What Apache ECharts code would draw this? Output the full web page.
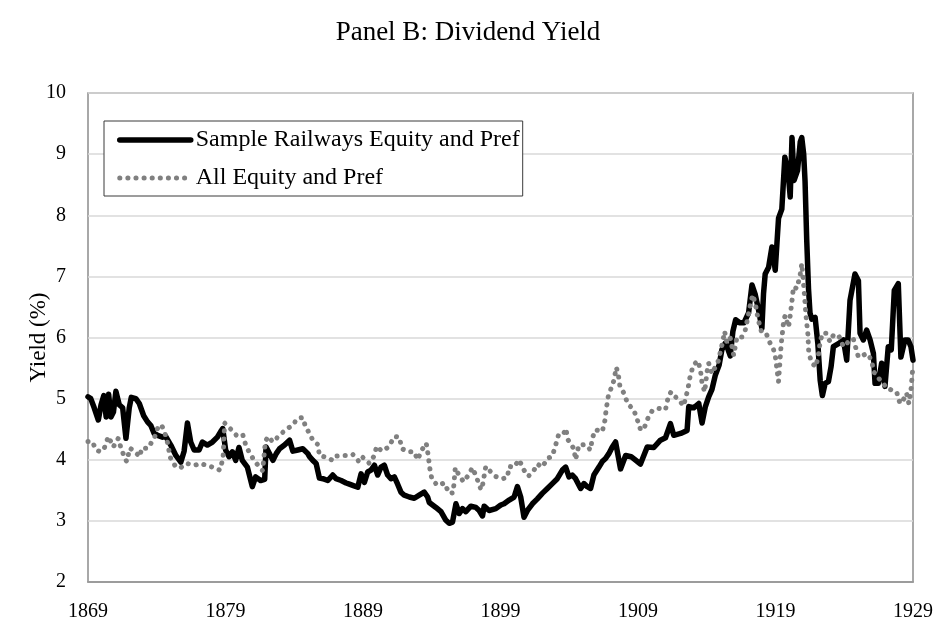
<!DOCTYPE html>
<html>
<head>
<meta charset="utf-8">
<script src="https://cdn.jsdelivr.net/npm/echarts@6/dist/echarts.min.js"></script>
<style>
  html, body { margin: 0; padding: 0; background: #fff; }
  #chart { width: 936px; height: 624px; }
</style>
</head>
<body>
<div id="chart"></div>
<script>
// Dividend yield (%) by date, as [year, yield] pairs
const sampleRailways = [
  [1869.00, 5.03], [1869.20, 5.00], [1869.45, 4.85], [1869.75, 4.65], [1869.95, 4.90],
  [1870.15, 5.05], [1870.32, 4.70], [1870.50, 5.07], [1870.67, 4.70], [1870.85, 4.78],
  [1871.03, 5.12], [1871.27, 4.90], [1871.52, 4.85], [1871.76, 4.35], [1872.00, 4.85],
  [1872.15, 5.02], [1872.48, 5.00], [1872.73, 4.92], [1873.05, 4.72], [1873.33, 4.62],
  [1873.57, 4.56], [1873.81, 4.43], [1874.06, 4.40], [1874.42, 4.37], [1874.66, 4.38],
  [1875.02, 4.24], [1875.39, 4.07], [1875.75, 3.96], [1875.99, 4.14], [1876.23, 4.60],
  [1876.47, 4.29], [1876.72, 4.16], [1877.08, 4.16], [1877.32, 4.29], [1877.68, 4.24],
  [1878.05, 4.29], [1878.41, 4.37], [1878.65, 4.46], [1878.80, 4.51], [1879.01, 4.16],
  [1879.26, 4.05], [1879.50, 4.13], [1879.74, 3.99], [1879.98, 4.20], [1880.22, 3.99],
  [1880.59, 3.88], [1880.95, 3.56], [1881.19, 3.72], [1881.55, 3.66], [1881.85, 3.68],
  [1881.95, 4.21], [1882.08, 4.18], [1882.45, 3.99], [1882.69, 4.10], [1882.93, 4.18],
  [1883.29, 4.24], [1883.66, 4.32], [1883.90, 4.14], [1884.26, 4.16], [1884.62, 4.18],
  [1884.99, 4.10], [1885.11, 4.05], [1885.35, 3.99], [1885.59, 3.94], [1885.83, 3.70],
  [1886.08, 3.69], [1886.44, 3.66], [1886.80, 3.75], [1887.04, 3.69], [1887.41, 3.66],
  [1887.77, 3.62], [1888.01, 3.60], [1888.25, 3.58], [1888.62, 3.55], [1888.86, 3.77],
  [1889.10, 3.63], [1889.34, 3.80], [1889.58, 3.83], [1889.83, 3.91], [1890.07, 3.75],
  [1890.31, 3.88], [1890.55, 3.91], [1890.79, 3.75], [1891.03, 3.69], [1891.28, 3.72],
  [1891.52, 3.60], [1891.76, 3.47], [1892.00, 3.42], [1892.37, 3.39], [1892.73, 3.37],
  [1893.09, 3.42], [1893.45, 3.47], [1893.70, 3.39], [1893.82, 3.30], [1894.06, 3.26],
  [1894.30, 3.22], [1894.67, 3.15], [1895.03, 3.01], [1895.27, 2.96], [1895.51, 2.98],
  [1895.76, 3.28], [1896.00, 3.12], [1896.24, 3.20], [1896.48, 3.15], [1896.84, 3.24],
  [1897.21, 3.22], [1897.45, 3.17], [1897.69, 3.08], [1897.81, 3.24], [1898.17, 3.17],
  [1898.66, 3.20], [1899.02, 3.26], [1899.26, 3.28], [1899.63, 3.34], [1899.99, 3.39],
  [1900.23, 3.56], [1900.47, 3.39], [1900.71, 3.06], [1900.96, 3.17], [1901.32, 3.28],
  [1901.68, 3.36], [1902.04, 3.45], [1902.41, 3.53], [1902.77, 3.61], [1903.13, 3.69],
  [1903.50, 3.83], [1903.74, 3.88], [1903.98, 3.72], [1904.22, 3.75], [1904.46, 3.69],
  [1904.83, 3.53], [1905.07, 3.61], [1905.31, 3.56], [1905.55, 3.53], [1905.79, 3.75],
  [1906.16, 3.88], [1906.40, 3.97], [1906.64, 4.02], [1906.88, 4.10], [1907.13, 4.21],
  [1907.37, 4.29], [1907.73, 3.85], [1908.10, 4.07], [1908.50, 4.05], [1909.18, 3.93],
  [1909.67, 4.21], [1910.15, 4.20], [1910.63, 4.32], [1911.00, 4.36], [1911.36, 4.59],
  [1911.60, 4.40], [1912.10, 4.43], [1912.57, 4.48], [1912.69, 4.87], [1913.05, 4.85],
  [1913.42, 4.92], [1913.66, 4.60], [1913.90, 4.87], [1914.14, 5.03], [1914.38, 5.15],
  [1914.62, 5.38], [1914.90, 5.55], [1915.10, 5.80], [1915.35, 5.91], [1915.47, 5.85],
  [1915.71, 5.70], [1915.90, 6.10], [1916.10, 6.29], [1916.40, 6.24], [1916.70, 6.24],
  [1917.04, 6.40], [1917.29, 6.86], [1917.53, 6.70], [1917.77, 6.45], [1918.01, 6.15],
  [1918.13, 6.72], [1918.25, 7.04], [1918.50, 7.15], [1918.74, 7.48], [1918.86, 7.32],
  [1918.98, 7.10], [1919.22, 7.95], [1919.46, 8.10], [1919.68, 8.95], [1919.92, 8.70],
  [1920.07, 8.30], [1920.20, 9.27], [1920.35, 8.57], [1920.60, 8.73], [1920.80, 9.20],
  [1920.91, 9.27], [1921.05, 9.00], [1921.15, 8.55], [1921.27, 7.60], [1921.40, 6.80],
  [1921.51, 6.40], [1921.64, 6.30], [1921.88, 6.33], [1922.08, 5.90], [1922.25, 5.30],
  [1922.41, 5.05], [1922.61, 5.25], [1922.85, 5.28], [1923.04, 5.52], [1923.21, 5.85],
  [1923.58, 5.90], [1923.94, 5.96], [1924.18, 5.63], [1924.42, 6.61], [1924.78, 7.04],
  [1925.03, 6.93], [1925.15, 6.07], [1925.39, 5.96], [1925.63, 6.12], [1925.88, 5.96],
  [1926.12, 5.74], [1926.24, 5.25], [1926.48, 5.25], [1926.72, 5.58], [1926.96, 5.20],
  [1927.20, 5.85], [1927.42, 5.80], [1927.64, 6.77], [1927.93, 6.88], [1928.12, 5.68],
  [1928.41, 5.96], [1928.65, 5.96], [1928.85, 5.85], [1929.00, 5.63]
];

const allEquity = [
  [1869.00, 4.30], [1869.30, 4.30], [1869.60, 4.16], [1869.90, 4.13], [1870.20, 4.20],
  [1870.48, 4.38], [1870.84, 4.21], [1871.20, 4.35], [1871.44, 4.16], [1871.81, 3.97],
  [1872.05, 4.19], [1872.41, 4.13], [1872.77, 4.05], [1872.90, 4.19], [1873.38, 4.19],
  [1873.86, 4.38], [1874.10, 4.54], [1874.35, 4.57], [1874.60, 4.43], [1874.83, 4.24],
  [1874.95, 4.05], [1875.31, 3.91], [1875.68, 3.86], [1876.16, 3.94], [1876.77, 3.91],
  [1877.13, 3.94], [1877.61, 3.91], [1878.34, 3.86], [1878.58, 3.83], [1878.82, 4.02],
  [1878.94, 4.60], [1879.43, 4.49], [1879.79, 4.40], [1880.03, 4.43], [1880.27, 4.40],
  [1880.51, 4.21], [1881.00, 4.02], [1881.36, 3.91], [1881.70, 3.82], [1881.90, 4.30],
  [1882.10, 4.38], [1882.45, 4.29], [1882.88, 4.39], [1883.37, 4.49], [1883.85, 4.56],
  [1884.26, 4.68], [1884.62, 4.69], [1884.82, 4.54], [1885.06, 4.45], [1885.35, 4.32],
  [1885.71, 4.25], [1885.83, 4.07], [1886.32, 4.04], [1886.80, 3.99], [1887.04, 4.06],
  [1887.53, 4.07], [1887.89, 4.07], [1888.25, 4.09], [1888.74, 3.96], [1888.98, 4.04],
  [1889.46, 3.94], [1889.83, 4.07], [1889.99, 4.22], [1890.38, 4.14], [1890.87, 4.21],
  [1891.28, 4.38], [1891.64, 4.37], [1891.83, 4.18], [1892.32, 4.13], [1892.73, 4.13],
  [1892.97, 4.00], [1893.28, 4.16], [1893.60, 4.27], [1893.75, 4.06], [1893.85, 3.87],
  [1894.01, 3.68], [1894.42, 3.58], [1894.91, 3.62], [1895.27, 3.45], [1895.56, 3.46],
  [1895.71, 3.87], [1895.95, 3.76], [1896.31, 3.64], [1896.67, 3.75], [1896.96, 3.87],
  [1897.28, 3.70], [1897.50, 3.55], [1897.64, 3.51], [1897.93, 3.89], [1898.22, 3.82],
  [1898.61, 3.73], [1899.14, 3.69], [1899.50, 3.71], [1899.63, 3.89], [1899.99, 3.88],
  [1900.35, 4.00], [1900.71, 3.83], [1901.03, 3.73], [1901.44, 3.83], [1901.68, 3.93],
  [1902.04, 3.88], [1902.41, 4.02], [1902.77, 4.06], [1903.01, 4.24], [1903.25, 4.43],
  [1903.62, 4.44], [1903.74, 4.51], [1903.93, 4.32], [1904.34, 4.18], [1904.46, 4.00],
  [1904.70, 4.24], [1905.14, 4.25], [1905.55, 4.16], [1905.67, 4.35], [1905.91, 4.49],
  [1906.40, 4.46], [1906.59, 4.64], [1906.69, 4.83], [1906.84, 5.04], [1907.00, 5.14],
  [1907.25, 5.30], [1907.42, 5.51], [1907.56, 5.41], [1907.68, 5.21], [1907.97, 5.09],
  [1908.25, 4.92], [1908.70, 4.81], [1908.94, 4.66], [1909.20, 4.48], [1909.50, 4.55],
  [1909.76, 4.70], [1910.03, 4.80], [1910.50, 4.84], [1911.00, 4.82], [1911.20, 5.03],
  [1911.40, 5.11], [1911.72, 5.03], [1912.05, 4.96], [1912.30, 4.88], [1912.48, 5.02],
  [1912.64, 5.17], [1912.78, 5.35], [1913.02, 5.55], [1913.35, 5.62], [1913.54, 5.47],
  [1913.66, 5.25], [1913.85, 5.11], [1914.02, 5.44], [1914.14, 5.58], [1914.38, 5.41],
  [1914.63, 5.52], [1914.87, 5.63], [1914.99, 5.77], [1915.16, 5.93], [1915.30, 6.10],
  [1915.47, 5.91], [1915.71, 5.99], [1915.96, 5.71], [1916.20, 6.01], [1916.56, 6.01],
  [1916.80, 6.12], [1917.00, 6.34], [1917.17, 6.53], [1917.34, 6.70], [1917.53, 6.56],
  [1917.65, 6.40], [1917.89, 6.15], [1918.05, 6.06], [1918.37, 6.04], [1918.62, 5.90],
  [1918.86, 5.80], [1919.00, 5.67], [1919.10, 5.49], [1919.22, 5.28], [1919.41, 5.88],
  [1919.50, 6.07], [1919.60, 6.28], [1919.70, 6.36], [1919.95, 6.17], [1920.07, 6.36],
  [1920.19, 6.58], [1920.31, 6.83], [1920.55, 6.80], [1920.79, 7.02], [1920.91, 7.21],
  [1921.00, 6.99], [1921.11, 6.69], [1921.18, 6.47], [1921.25, 6.28], [1921.35, 6.07],
  [1921.42, 5.75], [1921.64, 5.58], [1921.93, 5.52], [1922.12, 5.71], [1922.25, 5.93],
  [1922.41, 6.07], [1922.66, 6.07], [1922.97, 5.93], [1923.21, 6.04], [1923.58, 6.04],
  [1923.94, 5.85], [1924.30, 5.93], [1924.66, 5.98], [1924.78, 5.88], [1925.03, 5.68],
  [1925.39, 5.71], [1925.63, 5.74], [1926.00, 5.63], [1926.12, 5.44], [1926.36, 5.39],
  [1926.60, 5.30], [1926.84, 5.25], [1927.08, 5.17], [1927.45, 5.14], [1927.81, 5.11],
  [1928.05, 4.92], [1928.29, 4.98], [1928.53, 5.09], [1928.70, 4.92], [1928.85, 5.14],
  [1928.92, 5.33], [1929.00, 5.55]
];

const seriesNames = ['Sample Railways Equity and Pref', 'All Equity and Pref'];
const yearTicks = [1869, 1879, 1889, 1899, 1909, 1919, 1929];
const yieldTicks = [2, 10, 1]; // min, max, step

const serif = '"Liberation Serif", "Times New Roman", serif';

// Line looks shared by each series and its legend entry
const solidLine = { color: '#000', width: 5.5, join: 'round', cap: 'round' };
const dottedLine = { color: '#808080', width: 5, type: [0.1, 8], cap: 'round', join: 'round' };

const chart = echarts.init(document.getElementById('chart'), null, { renderer: 'canvas' });

chart.setOption({
  animation: false,
  backgroundColor: '#ffffff',
  title: {
    text: 'Panel B: Dividend Yield',
    left: 'center',
    top: 14,
    textStyle: { fontFamily: serif, fontSize: 27, fontWeight: 'normal', color: '#000' }
  },
  legend: {
    orient: 'vertical',
    left: 104,
    top: 121,
    padding: [7, 3, 6, 13],
    itemWidth: 71,
    itemHeight: 14,
    itemGap: 14,
    borderColor: '#3a3a3a',
    borderWidth: 1,
    backgroundColor: '#fff',
    itemStyle: { opacity: 0 },
    textStyle: { fontFamily: serif, fontSize: 24, color: '#000' },
    data: [
      { name: seriesNames[0], lineStyle: solidLine },
      { name: seriesNames[1], lineStyle: dottedLine }
    ]
  },
  grid: {
    left: 88, right: 21, top: 93, bottom: 42,
    show: true,
    borderColor: '#8c8c8c',
    borderWidth: 1.5,
    containLabel: false
  },
  xAxis: {
    type: 'value',
    min: yearTicks[0],
    max: yearTicks[yearTicks.length - 1],
    axisLine: { show: true, lineStyle: { color: '#8c8c8c', width: 1.5 } },
    axisTick: { show: false },
    splitLine: { show: false },
    axisLabel: {
      customValues: yearTicks,
      margin: 20,
      fontFamily: serif, fontSize: 20, color: '#000',
      formatter: v => String(v)
    }
  },
  yAxis: {
    type: 'value',
    min: yieldTicks[0],
    max: yieldTicks[1],
    interval: yieldTicks[2],
    name: 'Yield (%)',
    nameLocation: 'middle',
    nameGap: 38,
    nameMoveOverlap: false,
    nameTextStyle: { fontFamily: serif, fontSize: 23, color: '#000' },
    axisLine: { show: false },
    axisTick: { show: false },
    splitLine: { show: true, lineStyle: { color: '#d9d9d9', width: 1.5 } },
    axisLabel: { margin: 22, fontFamily: serif, fontSize: 20, color: '#000' }
  },
  series: [
    {
      name: seriesNames[0],
      type: 'line',
      data: sampleRailways,
      symbol: 'none',
      lineStyle: solidLine,
      itemStyle: { color: '#000' }
    },
    {
      name: seriesNames[1],
      type: 'line',
      data: allEquity,
      symbol: 'none',
      lineStyle: dottedLine,
      itemStyle: { color: '#808080' }
    }
  ]
});
</script>
</body>
</html>
